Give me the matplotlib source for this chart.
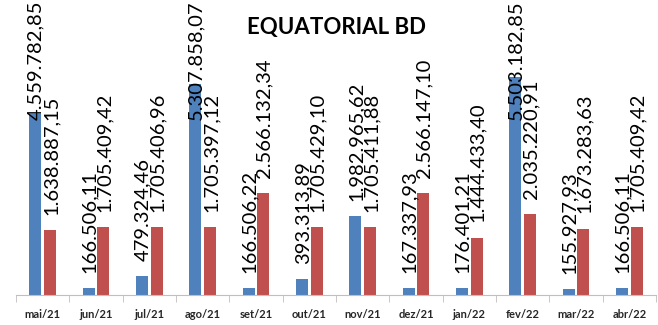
import numpy as np
import matplotlib.pyplot as plt

meses = ['mai/21', 'jun/21', 'jul/21', 'ago/21', 'set/21', 'out/21',
         'nov/21', 'dez/21', 'jan/22', 'fev/22', 'mar/22', 'abr/22']
serie_azul = [4559782.85, 166506.11, 479324.46, 5307858.07, 166506.22, 393313.89,
              1982965.62, 167337.93, 176401.21, 5503182.85, 155927.93, 166506.11]
serie_verm = [1638887.15, 1705409.42, 1705406.96, 1705397.12, 2566132.34, 1705429.10,
              1705411.88, 2566147.10, 1444433.40, 2035220.91, 1673283.63, 1705409.42]
titulo = 'EQUATORIAL BD'

def fmt_br(v):
    # formato brasileiro: 1.234.567,89
    s = f'{v:,.2f}'
    return s.replace(',', '#').replace('.', ',').replace('#', '.')

fig = plt.figure(figsize=(6.58, 3.25), dpi=100)
ax = fig.add_axes([16/658, 30/325, 640/658, 295/325])

x = np.arange(len(meses))
w = 0.225
b1 = ax.bar(x - 0.14, serie_azul, w, color='#4F81BD')
b2 = ax.bar(x + 0.14, serie_verm, w, color='#C0504D')

ax.set_xlim(-0.5, len(meses) - 0.5)
ax.set_ylim(0, 7.43e6)
for s in ['left', 'right', 'top']:
    ax.spines[s].set_visible(False)
ax.spines['bottom'].set_color('#BFBFBF')
ax.set_yticks([])
ax.set_xticks(x)
ax.set_xticklabels(meses, fontsize=8, fontweight='bold', family='Lato', color='#262626')
ax.tick_params(axis='x', length=0, pad=10)
ax.set_xticks(np.arange(-0.5, len(meses), 1), minor=True)
ax.tick_params(axis='x', which='minor', length=5, color='#BFBFBF')

fig.text(0.512, 0.915, titulo, ha='center', va='center', fontsize=16,
         fontweight='bold', family='Lato')

# rótulos de dados, empurrados para dentro da figura quando passam do topo
fig.canvas.draw()
r = fig.canvas.get_renderer()
for bars, vals in [(b1, serie_azul), (b2, serie_verm)]:
    for rect, v in zip(bars, vals):
        cx = rect.get_x() + rect.get_width() / 2
        t = ax.annotate(fmt_br(v), (cx, v), xytext=(0.5, 11), textcoords='offset points',
                        rotation=90, ha='center', va='bottom', fontsize=14.5,
                        family='Lato', color='black')
        bb = t.get_window_extent(r)
        if bb.y1 > fig.bbox.height:
            t.remove()
            ax.annotate(fmt_br(v), (cx, 1), xycoords=('data', 'figure fraction'),
                        xytext=(0.5, 0), textcoords='offset points',
                        rotation=90, ha='center', va='top', fontsize=14.5,
                        family='Lato', color='black')

fig.savefig('out.png', dpi=100)
